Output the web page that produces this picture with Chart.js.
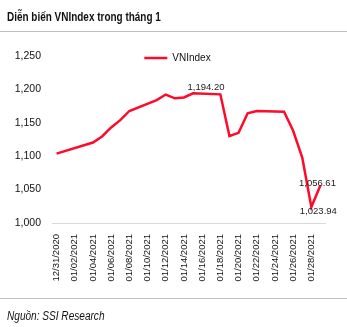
<!DOCTYPE html>
<html>
<head>
<meta charset="utf-8">
<script src="https://cdn.jsdelivr.net/npm/chart.js@4/dist/chart.umd.min.js"></script>
<style>
  html, body { margin: 0; padding: 0; background: #fff; }
  body { width: 347px; height: 327px; position: relative; overflow: hidden;
         font-family: "Liberation Sans", Arial, sans-serif; color: #111; }
  #title { position: absolute; left: 7px; top: 10px; font-size: 12px; font-weight: bold; white-space: nowrap;
           transform: scaleX(0.83); transform-origin: left center; }
  #rule-top { position: absolute; left: 0; top: 31px; width: 347px; height: 1px; background: #bfbfbf; }
  #rule-bottom { position: absolute; left: 0; top: 298px; width: 347px; height: 1px; background: #bfbfbf; }
  #source { position: absolute; left: 7px; top: 309px; font-size: 12px; font-style: italic; white-space: nowrap;
            transform: scaleX(0.84); transform-origin: left center; }
  #wrap { position: absolute; left: 0; top: 0; width: 347px; height: 327px; }
</style>
</head>
<body>
<div id="wrap"><canvas id="chart" width="347" height="327"></canvas></div>
<div id="title">Diễn biến VNIndex trong tháng 1</div>
<div id="rule-top"></div>
<div id="rule-bottom"></div>
<div id="source">Nguồn: SSI Research</div>
<script>
const dateLabels = [
  "12/31/2020", "01/01/2021", "01/02/2021", "01/03/2021", "01/04/2021", "01/05/2021",
  "01/06/2021", "01/07/2021", "01/08/2021", "01/09/2021", "01/10/2021", "01/11/2021",
  "01/12/2021", "01/13/2021", "01/14/2021", "01/15/2021", "01/16/2021", "01/17/2021",
  "01/18/2021", "01/19/2021", "01/20/2021", "01/21/2021", "01/22/2021", "01/23/2021",
  "01/24/2021", "01/25/2021", "01/26/2021", "01/27/2021", "01/28/2021", "01/29/2021"
];

// null = no trading session (holiday / weekend)
const vnIndex = [
  1103.9, null, null, null, 1120.5, 1129.5,
  1143.0, 1154.0, 1167.7, null, null, 1184.0,
  1192.3, 1186.7, 1188.0, 1194.20, null, null,
  1192.6, 1130.2, 1135.0, 1164.2, 1167.7, null,
  null, 1166.6, 1138.0, 1098.0, 1023.94, 1056.61
];

const yTicks = [1000, 1050, 1100, 1150, 1200, 1250];

const labeledPoints = ["01/15/2021", "01/28/2021", "01/29/2021"];

const RED = "#ff0a2a";
const FONT = "'Liberation Sans', Arial, sans-serif";

function fmt(v, digits) {
  return v.toLocaleString("en-US", { minimumFractionDigits: digits, maximumFractionDigits: digits });
}

// small nudges so the labels sit like in the source picture
const labelNudge = {
  "01/15/2021": { dx: 13, dy: -6 },
  "01/28/2021": { dx: 7, dy: 4 },
  "01/29/2021": { dx: -3, dy: -2 }
};

const pointLabels = {
  id: "pointLabels",
  afterDatasetsDraw(chart) {
    const { ctx } = chart;
    const meta = chart.getDatasetMeta(0);
    ctx.save();
    ctx.font = "9.5px " + FONT;
    ctx.fillStyle = "#222";
    ctx.textAlign = "center";
    ctx.textBaseline = "middle";
    labeledPoints.forEach((d) => {
      const i = dateLabels.indexOf(d);
      const el = meta.data[i];
      const n = labelNudge[d] || { dx: 0, dy: 0 };
      ctx.fillText(fmt(vnIndex[i], 2), el.x + n.dx, el.y + n.dy);
    });
    ctx.restore();
  }
};

// legend sits inside the plot, over the 1,250 line: it takes no room in the layout,
// then gets its real height back so it is not clipped when drawn
const flatLegend = {
  id: "flatLegend",
  beforeLayout(chart) {
    const lg = chart.legend;
    if (lg && !lg._flat) {
      const fit = lg.fit;
      lg.fit = function () {
        fit.call(this);
        this._realHeight = this.height;
        this.height = 0;
      };
      lg._flat = true;
    }
  },
  afterLayout(chart) {
    const lg = chart.legend;
    if (lg && lg._realHeight) {
      lg.top -= 3;
      lg.left += 15;
      lg.right += 15;
      lg.height = lg._realHeight + 4;
      lg.bottom = lg.top + lg.height;
    }
  }
};

new Chart(document.getElementById("chart"), {
  type: "line",
  data: {
    labels: dateLabels,
    datasets: [
      {
        label: "VNIndex",
        data: vnIndex,
        borderColor: RED,
        backgroundColor: RED,
        borderWidth: 2.5,
        pointRadius: 0,
        tension: 0,
        spanGaps: true
      }
    ]
  },
  options: {
    responsive: false,
    animation: false,
    devicePixelRatio: 1,
    layout: { padding: { top: 56, right: 22, left: 0, bottom: 0 } },
    plugins: {
      legend: {
        position: "top",
        align: "center",
        labels: {
          usePointStyle: true,
          pointStyle: "line",
          pointStyleWidth: 23,
          padding: 0,
          color: "#111",
          font: { family: FONT, size: 10 }
        }
      },
      tooltip: { enabled: false }
    },
    scales: {
      x: {
        offset: true,
        grid: { display: false },
        border: { display: true, color: "#d9d9d9", width: 1 },
        ticks: {
          autoSkip: false,
          maxRotation: 90,
          minRotation: 90,
          padding: 3,
          color: "#111",
          font: { family: FONT, size: 9.5 },
          callback(value, index) {
            return index % 2 === 0 ? dateLabels[index] : "";
          }
        },
        afterFit(scale) {
          scale.height = 104;
        }
      },
      y: {
        min: yTicks[0],
        max: yTicks[yTicks.length - 1],
        grid: { display: false },
        border: { display: false },
        afterBuildTicks(scale) {
          scale.ticks = yTicks.map((v) => ({ value: v }));
        },
        ticks: {
          padding: 3,
          color: "#111",
          font: { family: FONT, size: 10.5 },
          callback(value) {
            return fmt(value, 0);
          }
        },
        afterFit(scale) {
          scale.width = 52;
        }
      }
    }
  },
  plugins: [pointLabels, flatLegend]
});
</script>
</body>
</html>
